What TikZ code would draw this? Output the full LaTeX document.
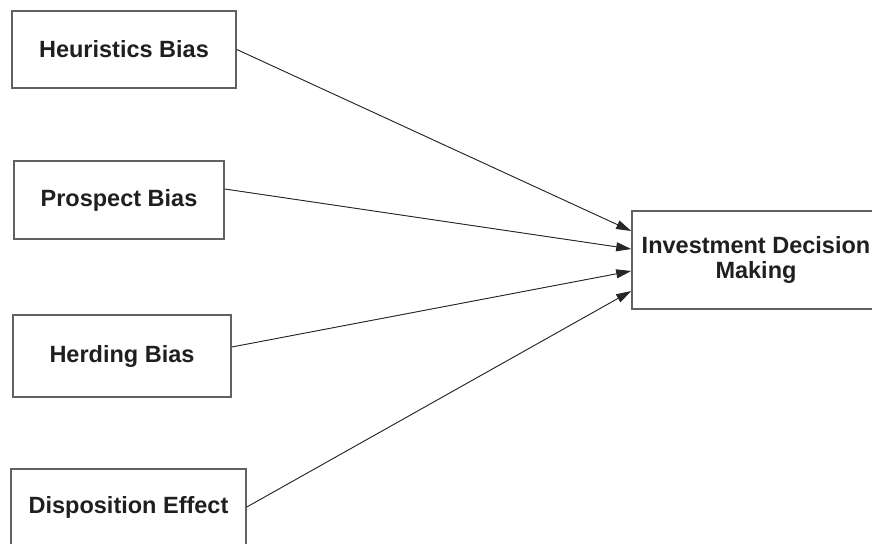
\documentclass[tikz,border=0pt]{standalone}
\usepackage{fontspec}
\setmainfont{Liberation Sans}
\usetikzlibrary{arrows.meta}
\begin{document}
\begin{tikzpicture}[x=1pt,y=-1pt,
 box/.style={draw=black!62, line width=1.6pt, fill=white, inner sep=0pt, align=center,
   font=\fontsize{23.5}{25.5}\selectfont\bfseries, text=black!88},
 link/.style={-{Triangle[length=15pt,width=9pt]}, line width=0.9pt, draw=black!85, fill=black}]
\clip (0,0) rectangle (872,543);
\fill[white] (0,0) rectangle (872,543);
\node[box, minimum width=224pt, minimum height=77pt] (h) at (124,49.5) {Heuristics Bias};
\node[box, minimum width=210pt, minimum height=78pt] (p) at (119,200) {Prospect Bias};
\node[box, minimum width=218pt, minimum height=82pt] (d) at (122,356) {Herding Bias};
\node[box, minimum width=235pt, minimum height=76pt] (e) at (128.5,507) {Disposition Effect};
\node[box, minimum width=248pt, minimum height=98pt] (t) at (756,260) {Investment Decision\\Making};
\draw[link] (h.east) -- ([yshift=29pt]t.west);
\draw[link] ([yshift=11pt]p.east) -- ([yshift=11pt]t.west);
\draw[link] ([yshift=9pt]d.east) -- ([yshift=-11pt]t.west);
\draw[link] (e.east) -- ([yshift=-31pt]t.west);
\end{tikzpicture}
\end{document}
